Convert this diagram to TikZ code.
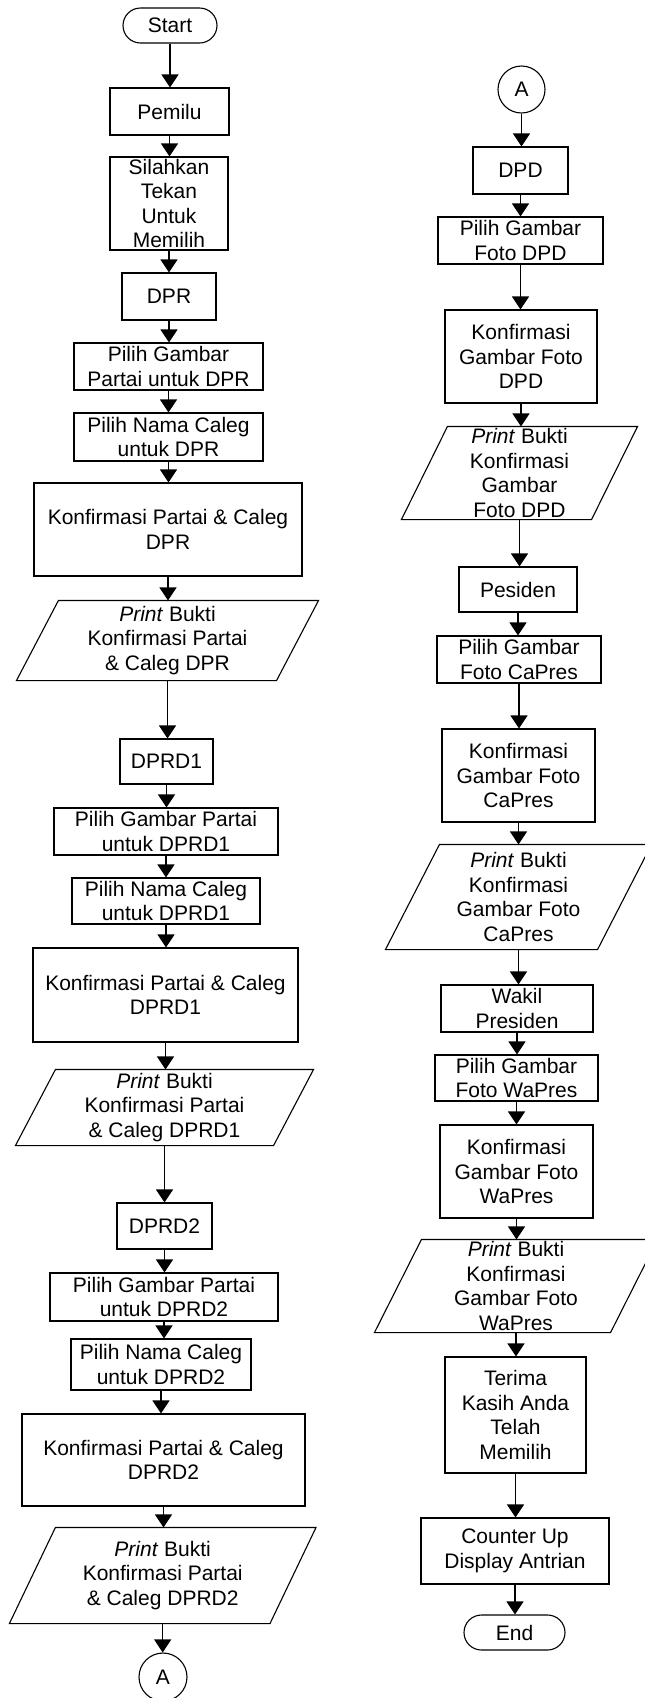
\documentclass[tikz,border=0pt]{standalone}
\usepackage{fontspec}
\setmainfont{Liberation Sans}
\usetikzlibrary{arrows.meta}
\begin{document}
\begin{tikzpicture}[x=1pt,y=-1pt,
  every node/.style={font=\fontsize{21}{24.5}\selectfont, line width=1.1pt},
  proc/.style n args={2}{draw, rectangle, minimum width=#1pt, minimum height=#2pt, inner sep=0pt, align=center},
  term/.style n args={2}{proc={#1}{#2}, rounded corners=17.5pt},
  iob/.style n args={2}{rectangle, minimum width=#1pt, minimum height=#2pt, inner sep=0pt, align=center},
  conn/.style={draw, circle, minimum size=#1pt, inner sep=0pt},
  arr/.style={line width=1.1pt, -{Triangle[width=17pt,length=13pt]}},
  edgeline/.style={line width=1.1pt, line join=miter}]
\useasboundingbox (0,0) rectangle (645,1698);

% left column
\node[term={94}{35}]  (start)  at (170,25.5)    {Start};
\node[proc={119}{47}] (pemilu) at (169.5,111.5) {Pemilu};
\node[proc={118}{93}] (tekan)  at (169,203.5)   {Silahkan\\Tekan\\Untuk\\Memilih};
\node[proc={94}{47}]  (dpr)    at (169,296.5)   {DPR};
\node[proc={189}{47}] (pgdpr)  at (168.5,366.5) {Pilih Gambar\\Partai untuk DPR};
\node[proc={189}{48}] (pndpr)  at (168.5,437)   {Pilih Nama Caleg\\untuk DPR};
\node[proc={268}{93}] (kdpr)   at (168,529.5)   {Konfirmasi Partai \& Caleg\\DPR};
\node[iob={259}{79}]  (prdpr)  at (167.5,640.5) {\textit{Print} Bukti\\Konfirmasi Partai\\\& Caleg DPR};
\node[proc={93}{45}]  (dprdA)  at (166.5,761.5) {DPRD1};
\node[proc={224}{47}] (pgA)    at (166,831.5)   {Pilih Gambar Partai\\untuk DPRD1};
\node[proc={188}{46}] (pnA)    at (166,901)     {Pilih Nama Caleg\\untuk DPRD1};
\node[proc={265}{94}] (kA)     at (165.5,995)   {Konfirmasi Partai \& Caleg\\DPRD1};
\node[iob={257}{75}]  (prA)    at (164.5,1107.5){\textit{Print} Bukti\\Konfirmasi Partai\\\& Caleg DPRD1};
\node[proc={95}{46}]  (dprdB)  at (164.5,1226)  {DPRD2};
\node[proc={228}{48}] (pgB)    at (164,1297)    {Pilih Gambar Partai\\untuk DPRD2};
\node[proc={180}{51}] (pnB)    at (161,1364.5)  {Pilih Nama Caleg\\untuk DPRD2};
\node[proc={283}{92}] (kB)     at (163.5,1460)  {Konfirmasi Partai \& Caleg\\DPRD2};
\node[iob={259.5}{95}](prB)    at (162.7,1575.5){\textit{Print} Bukti\\Konfirmasi Partai\\\& Caleg DPRD2};
\node[conn=48]        (aout)   at (163,1677)    {A};

% right column
\node[conn=47]        (ain)    at (521.5,89.5)  {A};
\node[proc={95}{47}]  (dpd)    at (520.5,170.5) {DPD};
\node[proc={165}{47}] (pgdpd)  at (520.5,240.5) {Pilih Gambar\\Foto DPD};
\node[proc={152}{93}] (kdpd)   at (521,356.5)   {Konfirmasi\\Gambar Foto\\DPD};
\node[iob={189}{92}]  (prdpd)  at (519.5,473)   {\textit{Print} Bukti\\Konfirmasi\\Gambar\\Foto DPD};
\node[proc={118}{45}] (pres)   at (518,589.5)   {Pesiden};
\node[proc={164}{47}] (pgcp)   at (519,659.5)   {Pilih Gambar\\Foto CaPres};
\node[proc={153}{93}] (kcp)    at (518.5,775.5) {Konfirmasi\\Gambar Foto\\CaPres};
\node[iob={211}{104}] (prcp)   at (518.5,897)   {\textit{Print} Bukti\\Konfirmasi\\Gambar Foto\\CaPres};
\node[proc={152}{47}] (wakil)  at (517,1008.5)  {Wakil\\Presiden};
\node[proc={163}{46}] (pgwp)   at (516.5,1078)  {Pilih Gambar\\Foto WaPres};
\node[proc={153}{93}] (kwp)    at (516.5,1171.5){Konfirmasi\\Gambar Foto\\WaPres};
\node[iob={235}{92}]  (prwp)   at (516,1286)    {\textit{Print} Bukti\\Konfirmasi\\Gambar Foto\\WaPres};
\node[proc={141}{116}](thanks) at (515.5,1415)  {Terima\\Kasih Anda\\Telah\\Memilih};
\node[proc={188}{66}] (counter)at (515,1551)    {Counter Up\\Display Antrian};
\node[term={101}{35}] (end)    at (514.5,1632.5){End};

% input/output parallelograms around the print nodes
\foreach \n/\s in {prdpr/21, prA/20, prB/23, prdpd/23, prcp/27, prwp/23.5}
  \draw[edgeline] ([xshift=\s pt]\n.north west) -- ([xshift=\s pt]\n.north east)
    -- ([xshift=-\s pt]\n.south east) -- ([xshift=-\s pt]\n.south west) -- cycle;

% flow connectors
\foreach \a/\b in {start/pemilu, pemilu/tekan, tekan/dpr, dpr/pgdpr, pgdpr/pndpr,
    pndpr/kdpr, kdpr/prdpr, prdpr/dprdA, dprdA/pgA, pgA/pnA, pnA/kA, kA/prA,
    prA/dprdB, dprdB/pgB, pgB/pnB, pnB/kB, kB/prB, prB/aout,
    ain/dpd, dpd/pgdpd, pgdpd/kdpd, kdpd/prdpd, prdpd/pres, pres/pgcp, pgcp/kcp,
    kcp/prcp, prcp/wakil, wakil/pgwp, pgwp/kwp, kwp/prwp, prwp/thanks,
    thanks/counter, counter/end}
  \draw[arr] (\a) -- (\a |- \b.north);
\end{tikzpicture}
\end{document}
